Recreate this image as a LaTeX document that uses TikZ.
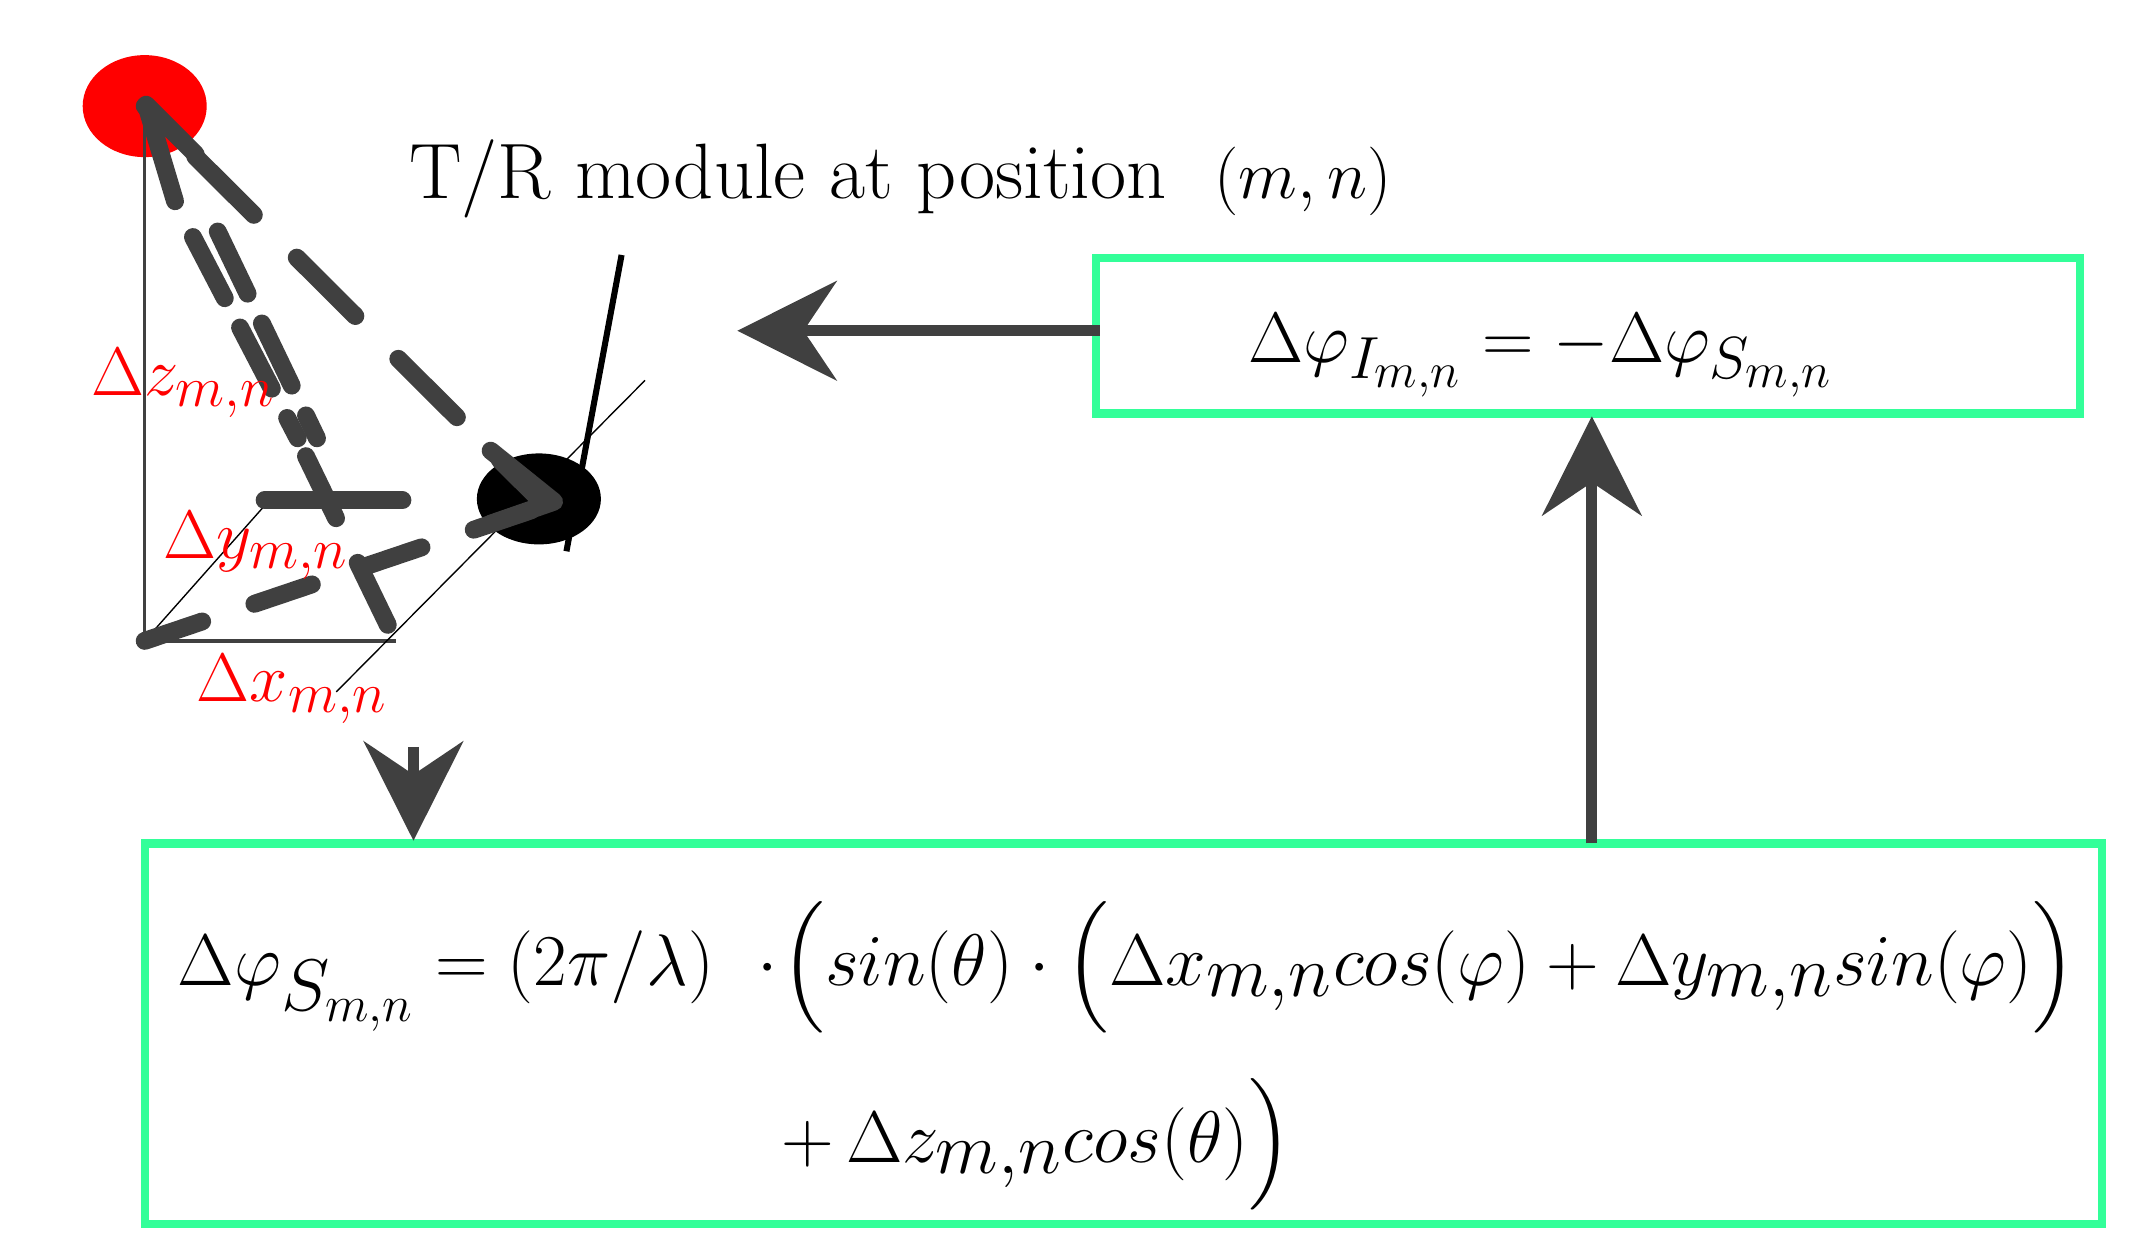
\documentclass[tikz,border=0pt]{standalone}
\usepackage{amsmath}
\usetikzlibrary{arrows.meta}
\definecolor{dg}{HTML}{404040}
\definecolor{bg}{HTML}{33FF99}
\DeclareMathSizes{30.5}{30.5}{23}{17}
\DeclareMathSizes{30}{30}{22.5}{17}
\DeclareMathSizes{28.5}{28.5}{21}{16}
\DeclareMathSizes{27}{27}{20}{15}
\begin{document}
\begin{tikzpicture}[x=0.5pt,y=-0.5pt,
  thin3/.style={dg,line width=1.2pt},
  dsh/.style={dg,line width=6.5pt,line cap=round,dash pattern=on 30pt off 22pt},
  box/.style={draw=bg,line width=3pt},
  big/.style={dg,line width=4pt,-{Stealth[length=36pt,width=36pt,inset=12pt]}},
  lab/.style={red,font=\fontsize{27}{30}\selectfont},
  eq/.style={font=\fontsize{30.5}{34}\selectfont}]
\useasboundingbox (0,0) rectangle (1552,908);
% axes
\coordinate (O) at (105,465);
\coordinate (X) at (287,465);
\coordinate (Y) at (191,368);
\fill[red] (105,77) ellipse (45 and 37);
\fill[black] (391,362) ellipse (45 and 33);
\node (R) at (105,77) {};
\node (B) at (391,362) {};
\draw[thin3] (O) -- (105,77);
\draw[thin3] (O) -- (X);
\draw[black,line width=0.5pt] (O) -- (Y);
\draw[black,line width=0.5pt] (244,502) -- (468,276);
\draw[black,line width=2.2pt] (451,185) -- (411,400);
% dashed lines
\draw[dsh,dash phase=10pt] (B.center) -- (R.center);
\draw[dg,line width=6.5pt,line cap=round,line join=round] (142,112) -- (106,76) -- (127,146);
\draw[dsh,dash pattern=on 22pt off 20pt] (O) -- (401,365);
\draw[dg,line width=6.5pt,line cap=round,line join=round] (356,327) -- (402,364) -- (356,380);
\draw[dsh,dash pattern=on 50pt off 25pt] (192,363) -- (339,363);
\draw[dsh,dash pattern=on 25pt off 12pt] (140,172) -- (216,318);
\draw[dsh,dash pattern=on 25pt off 12pt] (158,168) -- (230,318);
\draw[dsh,dash pattern=on 25pt off 18pt] (222,331) -- (287,465);
% labels
\node[lab] (lz) at (133,278) {$\Delta z_{m,n}$};
\node[lab] (ly) at (186,396) {$\Delta y_{m,n}$};
\node[lab] (lx) at (212,500) {$\Delta x_{m,n}$};
\node[anchor=west,font=\fontsize{28.5}{32}\selectfont] (t) at (290,130) {T/R module at position\ \ $(m,n)$};
% boxes
\draw[box] (795,187) rectangle (1509,300);
\draw[box] (105,612) rectangle (1525,888);
\node[font=\fontsize{30}{34}\selectfont] (e1) at (1118,258) {\scalebox{1.04}{$\Delta\varphi_{I_{m,n}}=-\Delta\varphi_{S_{m,n}}$}};
\node[eq,anchor=west] (e2) at (122,702) {\scalebox{1.065}{$\Delta\varphi_{S_{m,n}}=(2\pi/\lambda)\ \cdot\!\Big(sin(\theta)\cdot\Big(\Delta x_{m,n}cos(\varphi)+\Delta y_{m,n}sin(\varphi)\Big)$}};
\node[eq,anchor=west] (e3) at (560,830) {\scalebox{1.065}{$+\,\Delta z_{m,n}cos(\theta)\Big)$}};
% arrows
\coordinate (a1s) at (798,240);
\coordinate (a1e) at (535,240);
\draw[big] (a1s) -- (a1e);
\coordinate (a2s) at (1155,612);
\coordinate (a2e) at (1155,302);
\draw[big] (a2s) -- (a2e);
\coordinate (a3s) at (300,542);
\coordinate (a3e) at (300,610);
\draw[big] (a3s) -- (a3e);
\end{tikzpicture}
\end{document}
